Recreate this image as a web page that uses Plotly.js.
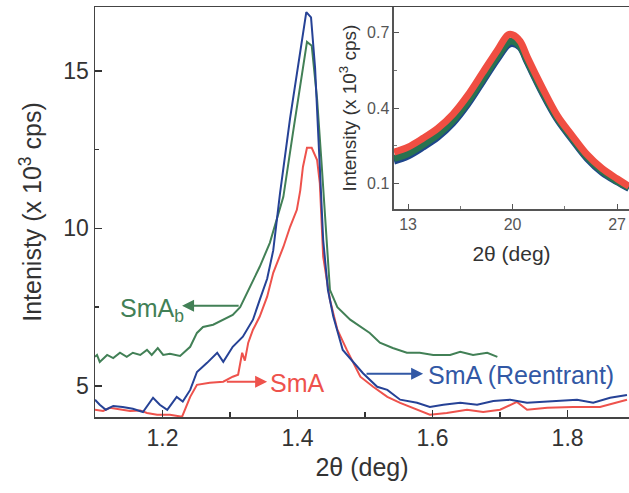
<!DOCTYPE html>
<html>
<head>
<meta charset="utf-8">
<script src="https://cdn.plot.ly/plotly-3.0.1.min.js"></script>
<style>html,body{margin:0;padding:0;background:#fff;}#chart{width:629px;height:493px;}</style>
</head>
<body>
<div id="chart"></div>
<script>
// ---- Main panel data (2θ in deg, intensity in 10^3 cps) ----
const smAbX = [1.100,1.103,1.107,1.118,1.127,1.137,1.147,1.156,1.167,1.177,1.184,1.193,1.201,1.211,1.226,1.241,1.251,1.260,1.275,1.290,1.304,1.315,1.330,1.344,1.359,1.374,1.379,1.393,1.404,1.414,1.421,1.429,1.436,1.448,1.459,1.478,1.507,1.522,1.541,1.562,1.581,1.601,1.626,1.641,1.660,1.681,1.696];
const smAbY = [5.92,5.98,5.76,5.98,5.88,6.05,5.92,6.05,5.98,6.14,5.98,6.20,5.98,6.02,5.95,6.24,6.68,6.87,6.94,7.10,7.25,7.50,8.14,8.78,9.54,10.59,11.0,13.0,14.6,15.92,15.8,14.1,11.95,8.05,7.5,7.1,6.68,6.37,6.2,6.05,6.05,5.98,5.98,6.08,5.98,6.05,5.92];

const reentX = [1.100,1.107,1.116,1.127,1.141,1.156,1.171,1.186,1.196,1.207,1.221,1.230,1.241,1.251,1.266,1.281,1.290,1.304,1.319,1.334,1.344,1.355,1.364,1.374,1.389,1.404,1.413,1.420,1.426,1.433,1.438,1.445,1.453,1.467,1.488,1.497,1.518,1.533,1.552,1.577,1.596,1.616,1.641,1.666,1.690,1.715,1.740,1.764,1.789,1.814,1.838,1.863,1.888];
const reentY = [4.56,4.40,4.24,4.36,4.33,4.27,4.17,4.62,4.40,4.24,4.65,4.50,4.87,5.44,5.73,6.05,5.76,6.24,6.56,7.10,7.73,8.4,9.3,11.1,13.5,15.67,16.87,16.7,15.1,11.95,9.63,8.05,7.2,6.14,5.6,5.4,4.97,4.87,4.56,4.46,4.33,4.40,4.46,4.40,4.52,4.56,4.46,4.50,4.52,4.56,4.46,4.62,4.71];

const smAX = [1.100,1.112,1.122,1.137,1.152,1.167,1.177,1.192,1.211,1.229,1.241,1.251,1.270,1.290,1.304,1.312,1.318,1.322,1.327,1.334,1.344,1.355,1.364,1.379,1.389,1.399,1.404,1.408,1.414,1.421,1.429,1.433,1.438,1.448,1.459,1.473,1.488,1.493,1.512,1.533,1.552,1.577,1.596,1.621,1.651,1.675,1.700,1.725,1.740,1.770,1.808,1.848,1.873,1.888];
const smAY = [4.24,4.20,4.30,4.24,4.20,4.22,4.14,4.08,4.08,4.02,4.65,5.03,5.10,5.13,5.29,5.35,6.05,5.80,6.37,6.78,7.20,7.83,8.59,9.41,10.05,10.59,11.2,11.95,12.56,12.56,12.17,11.44,9.1,7.73,6.78,6.14,5.50,5.29,4.97,4.65,4.46,4.24,4.08,4.14,4.24,4.17,4.24,4.49,4.24,4.30,4.33,4.33,4.46,4.56];

// ---- Inset data (wide-angle, 10^3 cps) ----
const insetX = [12.06,13,14,15,16,17,18,19,19.7,20,20.5,21,22,23,24,25,26,27,27.8];
const insetRed   = [0.225,0.245,0.28,0.32,0.375,0.45,0.54,0.63,0.69,0.69,0.665,0.60,0.48,0.37,0.29,0.215,0.16,0.12,0.09];
const insetGreen = [0.20,0.22,0.255,0.295,0.35,0.425,0.515,0.605,0.66,0.665,0.645,0.585,0.465,0.36,0.28,0.205,0.15,0.11,0.085];
const insetBlue  = [0.19,0.21,0.245,0.285,0.34,0.415,0.505,0.595,0.65,0.655,0.64,0.58,0.46,0.355,0.275,0.20,0.145,0.108,0.082];

const GREEN = 'rgb(66,128,86)';
const BLUE = 'rgb(38,66,150)';
const RED = 'rgb(238,82,76)';
const FONT = 'Liberation Sans, Arial, Helvetica, sans-serif';

const traces = [
  {x: smAX, y: smAY, type: 'scatter', mode: 'lines', line: {color: RED, width: 2}, xaxis: 'x', yaxis: 'y'},
  {x: smAbX, y: smAbY, type: 'scatter', mode: 'lines', line: {color: GREEN, width: 2}, xaxis: 'x', yaxis: 'y'},
  {x: reentX, y: reentY, type: 'scatter', mode: 'lines', line: {color: BLUE, width: 2}, xaxis: 'x', yaxis: 'y'},
  {x: insetX, y: insetBlue, type: 'scatter', mode: 'lines', line: {color: 'rgb(30,70,140)', width: 7, shape: 'spline'}, xaxis: 'x2', yaxis: 'y2'},
  {x: insetX, y: insetGreen, type: 'scatter', mode: 'lines', line: {color: 'rgb(40,115,80)', width: 7, shape: 'spline'}, xaxis: 'x2', yaxis: 'y2'},
  {x: insetX, y: insetRed, type: 'scatter', mode: 'lines', line: {color: 'rgb(240,78,66)', width: 7, shape: 'spline'}, xaxis: 'x2', yaxis: 'y2'}
];

const layout = {
  width: 629, height: 493,
  margin: {l: 95, r: 0, t: 7, b: 76},
  paper_bgcolor: '#fff', plot_bgcolor: '#fff',
  showlegend: false,
  font: {family: FONT, color: '#333'},
  xaxis: {
    range: [1.1, 1.891], domain: [0, 1],
    tickvals: [1.2, 1.4, 1.6, 1.8], ticktext: ['1.2','1.4','1.6','1.8'],
    ticks: 'inside', ticklen: 7, tickwidth: 1.5, tickcolor: '#333',
    minor: {tick0: 1.3, dtick: 0.2, ticks: 'inside', ticklen: 5, tickwidth: 1.5, tickcolor: '#333'},
    showline: true, linecolor: '#444', linewidth: 1.5, mirror: true,
    showgrid: false, zeroline: false,
    tickfont: {size: 23, color: '#333'},
    title: {text: '2θ (deg)', font: {size: 25, color: '#333'}, standoff: 8}
  },
  yaxis: {
    range: [4.01, 17.03], domain: [0, 1],
    tickvals: [5, 10, 15], ticktext: ['5','10','15'],
    ticks: 'inside', ticklen: 7, tickwidth: 1.5, tickcolor: '#333',
    minor: {tick0: 7.5, dtick: 5, ticks: 'inside', ticklen: 4, tickwidth: 1.5, tickcolor: '#333'},
    showline: true, linecolor: '#444', linewidth: 1.5,
    showgrid: false, zeroline: false,
    tickfont: {size: 23, color: '#333'},
    title: {text: 'Intenisty (x 10<sup>3</sup> cps)', font: {size: 25, color: '#333'}, standoff: 14}
  },
  xaxis2: {
    anchor: 'y2', domain: [0.5599, 1], range: [12.06, 27.8],
    tickvals: [13, 20, 27], ticktext: ['13','20','27'],
    ticks: 'inside', ticklen: 5, tickwidth: 1, tickcolor: '#555',
    minor: {tick0: 16.5, dtick: 7, ticks: 'inside', ticklen: 3, tickwidth: 1, tickcolor: '#777'},
    showline: true, linecolor: '#555', linewidth: 1.5,
    showgrid: false, zeroline: false,
    tickfont: {size: 16, color: '#555'},
    title: {text: '2θ (deg)', font: {size: 21, color: '#333'}, standoff: 14}
  },
  yaxis2: {
    anchor: 'x2', domain: [0.5073, 1], range: [0, 0.8],
    tickvals: [0.1, 0.4, 0.7], ticktext: ['0.1','0.4','0.7'],
    ticks: 'inside', ticklen: 5, tickwidth: 1, tickcolor: '#555',
    minor: {tick0: 0.25, dtick: 0.3, ticks: 'inside', ticklen: 3, tickwidth: 1, tickcolor: '#777'},
    showline: true, linecolor: '#555', linewidth: 1.5,
    showgrid: false, zeroline: false,
    tickfont: {size: 16, color: '#555'},
    title: {text: 'Intensity (x 10<sup>3</sup> cps)', font: {size: 19, color: '#333'}, standoff: 5}
  },
  annotations: [
    {xref: 'x', yref: 'y', x: 1.229, y: 7.54, ax: 1.315, ay: 7.54, axref: 'x', ayref: 'y', text: '', showarrow: true, arrowhead: 2, arrowsize: 1.2, arrowwidth: 2, arrowcolor: GREEN},
    {xref: 'x', yref: 'y', x: 1.184, y: 7.41, text: 'SmA<sub>b</sub>', showarrow: false, font: {size: 25, color: GREEN}},
    {xref: 'x', yref: 'y', x: 1.355, y: 5.13, ax: 1.293, ay: 5.13, axref: 'x', ayref: 'y', text: '', showarrow: true, arrowhead: 2, arrowsize: 1.2, arrowwidth: 2, arrowcolor: RED},
    {xref: 'x', yref: 'y', x: 1.356, y: 5.08, xanchor: 'left', text: 'SmA', showarrow: false, font: {size: 25, color: RED}},
    {xref: 'x', yref: 'y', x: 1.586, y: 5.38, ax: 1.50, ay: 5.38, axref: 'x', ayref: 'y', text: '', showarrow: true, arrowhead: 2, arrowsize: 1.2, arrowwidth: 2, arrowcolor: 'rgb(50,88,165)'},
    {xref: 'x', yref: 'y', x: 1.591, y: 5.35, xanchor: 'left', text: 'SmA (Reentrant)', showarrow: false, font: {size: 25, color: 'rgb(50,88,165)'}}
  ]
};

Plotly.newPlot('chart', traces, layout, {staticPlot: true, displayModeBar: false});
</script>
</body>
</html>
